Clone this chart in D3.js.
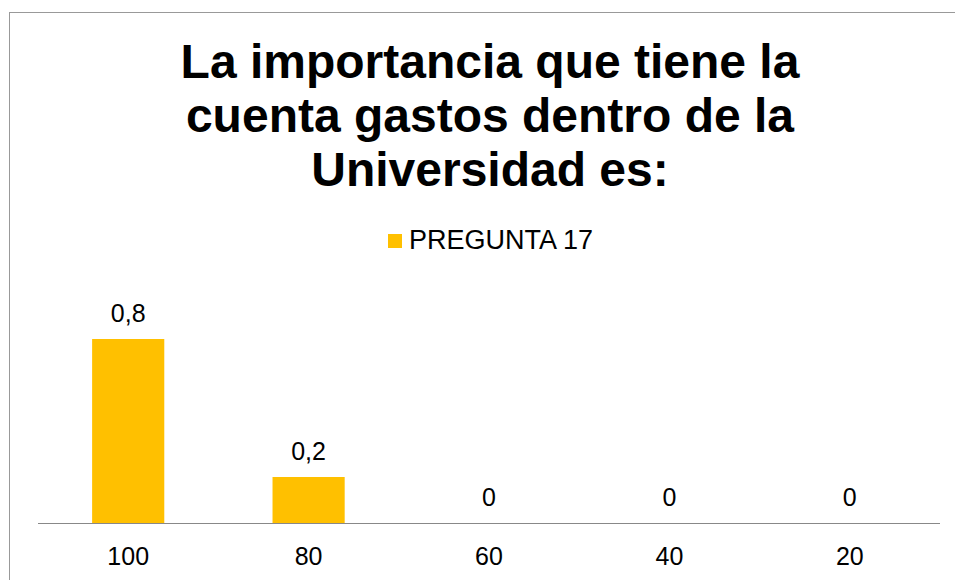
<!DOCTYPE html>
<html>
<head>
<meta charset="utf-8">
<script src="https://cdn.jsdelivr.net/npm/d3@7"></script>
<style>
  body { margin: 0; background: #fff; }
  text { font-family: "Liberation Sans", Arial, sans-serif; }
</style>
</head>
<body>
<div id="chart"></div>
<script>
const categories = ["100", "80", "60", "40", "20"];
const values = [0.8, 0.2, 0, 0, 0];
const valueLabels = ["0,8", "0,2", "0", "0", "0"];
const seriesName = "PREGUNTA 17";
const titleLines = ["La importancia que tiene la", "cuenta gastos dentro de la", "Universidad es:"];

const width = 955, height = 580;
const margin = { left: 38, right: 15, axisY: 523 };
const barColor = "#FFC000";

const svg = d3.select("#chart")
  .append("svg")
  .attr("width", width)
  .attr("height", height);

// outer frame
svg.append("rect")
  .attr("x", 9.5)
  .attr("y", 12.5)
  .attr("width", 960)
  .attr("height", 600)
  .attr("fill", "none")
  .attr("stroke", "#999")
  .attr("stroke-width", 1);

// title
svg.append("text")
  .attr("text-anchor", "middle")
  .style("font-size", "48px")
  .style("font-weight", "bold")
  .attr("fill", "#000")
  .selectAll("tspan")
  .data(titleLines)
  .enter()
  .append("tspan")
  .attr("x", 490)
  .attr("y", (d, i) => 78 + i * 54)
  .text(d => d);

// legend
const legend = svg.append("g").attr("transform", "translate(388,234)");
legend.append("rect")
  .attr("width", 14)
  .attr("height", 14)
  .attr("fill", barColor);
legend.append("text")
  .attr("x", 21)
  .attr("y", 15)
  .style("font-size", "27px")
  .attr("fill", "#000")
  .text(seriesName);

const x = d3.scaleBand()
  .domain(categories)
  .range([margin.left, width - margin.right])
  .paddingInner(0.6)
  .paddingOuter(0.3);

const y = d3.scaleLinear()
  .domain([0, 1])
  .range([margin.axisY, margin.axisY - 230]);

svg.selectAll(".bar")
  .data(values)
  .enter()
  .append("rect")
  .attr("class", "bar")
  .attr("x", (d, i) => x(categories[i]))
  .attr("width", x.bandwidth())
  .attr("y", d => y(d))
  .attr("height", d => y(0) - y(d))
  .attr("fill", barColor);

svg.selectAll(".vlabel")
  .data(values)
  .enter()
  .append("text")
  .attr("class", "vlabel")
  .attr("x", (d, i) => x(categories[i]) + x.bandwidth() / 2)
  .attr("y", d => y(d) - 17)
  .attr("text-anchor", "middle")
  .style("font-size", "25px")
  .attr("fill", "#000")
  .text((d, i) => valueLabels[i]);

// x axis
const xAxis = svg.append("g")
  .attr("transform", `translate(0,${margin.axisY})`)
  .call(d3.axisBottom(x).tickSize(0).tickPadding(24).tickSizeOuter(0));
xAxis.select(".domain")
  .attr("stroke", "#888")
  .attr("d", `M${margin.left},0.5H${width - margin.right}`);
xAxis.selectAll("text")
  .attr("dy", null)
  .attr("y", 42)
  .style("font-size", "25px")
  .attr("fill", "#000");
</script>
</body>
</html>
